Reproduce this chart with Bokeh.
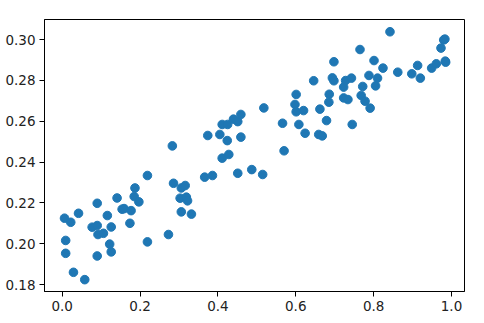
from bokeh.plotting import figure
from bokeh.models import Range1d, FixedTicker, NumeralTickFormatter, ColumnDataSource
from bokeh.embed import file_html
from bokeh.resources import INLINE

x = [0.006, 0.022, 0.042, 0.009, 0.009, 0.029, 0.058, 0.077, 0.090, 0.090,
     0.092, 0.106, 0.090, 0.116, 0.126, 0.122, 0.126, 0.141, 0.154, 0.159,
     0.177, 0.174, 0.187, 0.185, 0.197, 0.219, 0.219, 0.273, 0.283, 0.286,
     0.306, 0.316, 0.303, 0.319, 0.322, 0.306, 0.332, 0.366, 0.386, 0.374,
     0.405, 0.411, 0.425, 0.440, 0.451, 0.459, 0.424, 0.459, 0.411, 0.428,
     0.451, 0.487, 0.515, 0.518, 0.566, 0.570, 0.601, 0.598, 0.601, 0.620,
     0.608, 0.624, 0.646, 0.662, 0.659, 0.668, 0.679, 0.686, 0.685, 0.698,
     0.694, 0.698, 0.723, 0.728, 0.743, 0.723, 0.734, 0.745, 0.765, 0.772,
     0.768, 0.778, 0.791, 0.788, 0.801, 0.810, 0.805, 0.824, 0.842, 0.862,
     0.898, 0.913, 0.920, 0.949, 0.961, 0.973, 0.980, 0.984, 0.985, 0.983]
y = [0.2125, 0.2105, 0.2149, 0.2016, 0.1953, 0.1860, 0.1824, 0.2081, 0.2198, 0.2089,
     0.2045, 0.2051, 0.1940, 0.2138, 0.2082, 0.1998, 0.1960, 0.2224, 0.2169, 0.2172,
     0.2162, 0.2100, 0.2273, 0.2231, 0.2205, 0.2334, 0.2009, 0.2045, 0.2479, 0.2296,
     0.2273, 0.2285, 0.2223, 0.2228, 0.2210, 0.2156, 0.2145, 0.2326, 0.2334, 0.2530,
     0.2535, 0.2584, 0.2584, 0.2610, 0.2598, 0.2633, 0.2505, 0.2522, 0.2419, 0.2437,
     0.2345, 0.2363, 0.2339, 0.2665, 0.2590, 0.2455, 0.2731, 0.2682, 0.2646, 0.2652,
     0.2584, 0.2541, 0.2798, 0.2659, 0.2535, 0.2528, 0.2603, 0.2732, 0.2693, 0.2891,
     0.2812, 0.2798, 0.2767, 0.2799, 0.2811, 0.2714, 0.2706, 0.2584, 0.2951, 0.2770,
     0.2726, 0.2698, 0.2664, 0.2824, 0.2897, 0.2811, 0.2773, 0.2860, 0.3038, 0.2840,
     0.2832, 0.2873, 0.2811, 0.2860, 0.2881, 0.2958, 0.2998, 0.2894, 0.2889, 0.3002]

x_ticks = [0.0, 0.2, 0.4, 0.6, 0.8, 1.0]
y_ticks = [0.18, 0.20, 0.22, 0.24, 0.26, 0.28, 0.30]

src = ColumnDataSource(dict(x=x, y=y))

p = figure(width=484, height=323, output_backend="svg", toolbar_location=None,
           x_range=Range1d(-0.0454, 1.0334), y_range=Range1d(0.1766, 0.3098),
           min_border_left=44, min_border_right=20, min_border_top=19, min_border_bottom=32)
p.background_fill_color = "white"
p.border_fill_color = "white"
p.grid.visible = False
p.outline_line_color = "black"
p.outline_line_width = 1

p.scatter("x", "y", source=src, size=8.6, color="#1f77b4", line_color="#1f77b4")

p.xaxis.ticker = FixedTicker(ticks=x_ticks)
p.yaxis.ticker = FixedTicker(ticks=y_ticks)
p.xaxis.formatter = NumeralTickFormatter(format="0.0")
p.yaxis.formatter = NumeralTickFormatter(format="0.00")
for ax in (p.xaxis[0], p.yaxis[0]):
    ax.major_tick_out = 5
    ax.major_tick_in = 0
    ax.minor_tick_out = 0
    ax.minor_tick_in = 0
    ax.axis_line_color = "black"
    ax.major_tick_line_color = "black"
    ax.major_label_text_font = "DejaVu Sans"
    ax.major_label_text_font_size = "13.5px"
    ax.major_label_text_color = "#222222"
p.xaxis.major_label_standoff = 4
p.yaxis.major_label_standoff = 4

open("out.html", "w").write(file_html(p, INLINE))
